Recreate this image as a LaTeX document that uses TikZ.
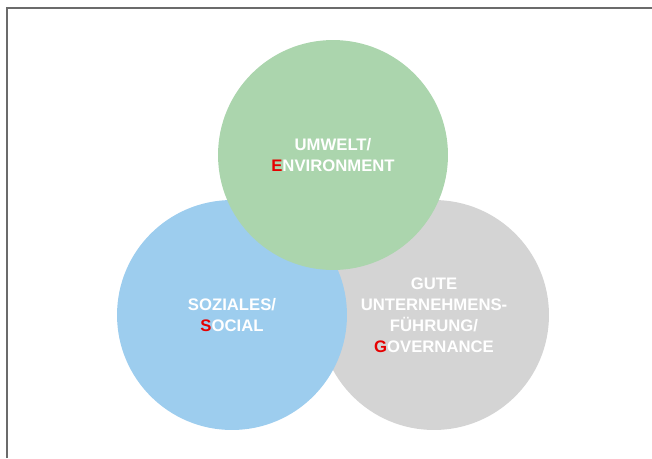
\documentclass[tikz,border=0pt]{standalone}
\usepackage{fontspec}
\setmainfont{Liberation Sans}
\usepackage{tikz}
\usetikzlibrary{positioning}
\definecolor{esggreen}{RGB}{171,213,173}
\definecolor{esgblue}{RGB}{157,205,238}
\definecolor{esggray}{RGB}{212,212,212}
\definecolor{esgred}{RGB}{230,0,0}
\definecolor{framegray}{RGB}{107,107,107}
\tikzstyle{pillar}=[circle,minimum size=4.6cm,inner sep=0pt,align=center,text=white,font=\bfseries\fontsize{9.5}{12}\selectfont]
\newcommand{\initial}[1]{\textcolor{esgred}{#1}}

\begin{document}
\begin{tikzpicture}[x=0.02cm,y=-0.02cm]
\useasboundingbox (0,0) rectangle (652,458);
\draw[framegray,line width=0.6pt] (7,458) -- (7,8) -- (652,8);
\draw (434, 315) node [pillar,fill=esggray] (gov) {GUTE\\UNTERNEHMENS-\\FÜHRUNG/\\\initial{G}OVERNANCE};
\draw (232, 315) node [pillar,fill=esgblue] (soc) {SOZIALES/\\\initial{S}OCIAL};
\draw (333, 155) node [pillar,fill=esggreen] (env) {UMWELT/\\\initial{E}NVIRONMENT};
\end{tikzpicture}
\end{document}
